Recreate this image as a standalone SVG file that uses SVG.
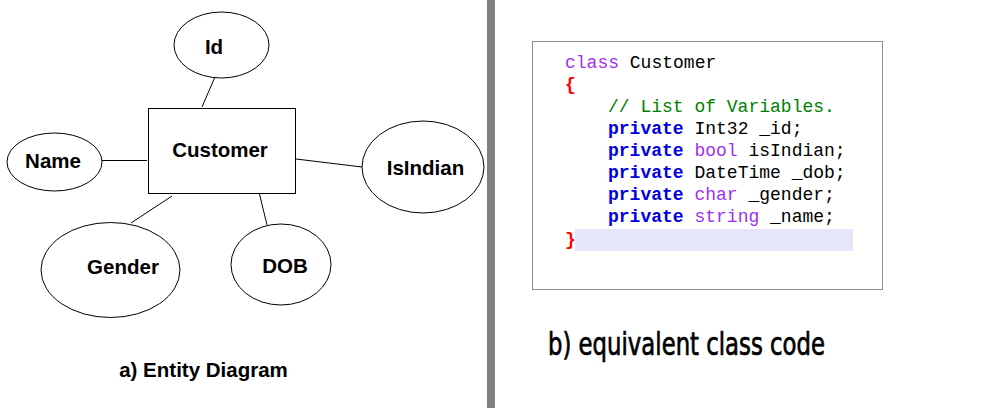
<svg xmlns="http://www.w3.org/2000/svg" width="990" height="408" viewBox="0 0 990 408">
  <style>
    .shape { fill: #ffffff; stroke: #000000; stroke-width: 1; }
    .conn line { stroke: #000000; stroke-width: 1; }
    .lbl { font-family: "Liberation Sans", Arial, sans-serif; font-weight: bold; font-size: 20.5px; fill: #000000; text-anchor: middle; }
    .code { font-family: "Liberation Mono", "Courier New", monospace; font-size: 18px; fill: #000000; white-space: pre; }
    .kw { fill: #0000e0; font-weight: bold; }
    .ty { fill: #a030f0; }
    .cm { fill: #008000; }
    .br { fill: #ff0000; font-weight: bold; }
    .cap { font-family: "Liberation Sans Narrow", "DejaVu Sans Condensed", "Liberation Sans", sans-serif; font-stretch: condensed; font-size: 32px; fill: #000000; stroke: #000000; stroke-width: 0.7px; }
  </style>

  <rect x="0" y="0" width="990" height="408" fill="#ffffff"/>

  <!-- connectors between the entity and its attributes -->
  <g id="connectors" class="conn">
    <line x1="214.5" y1="78" x2="202" y2="107"/>
    <line x1="102" y1="160.5" x2="147" y2="160.5"/>
    <line x1="296" y1="159" x2="362" y2="167"/>
    <line x1="172" y1="196" x2="131" y2="223"/>
    <line x1="259" y1="192" x2="267" y2="225"/>
  </g>

  <g id="customer">
    <rect class="shape" x="148.5" y="108.5" width="147" height="85"/>
    <text class="lbl" x="220" y="156.5">Customer</text>
  </g>
  <g id="attr-id">
    <ellipse class="shape" cx="221.5" cy="45" rx="47.5" ry="33"/>
    <text class="lbl" x="214" y="54">Id</text>
  </g>
  <g id="attr-name">
    <ellipse class="shape" cx="54.5" cy="162" rx="47.5" ry="29"/>
    <text class="lbl" x="53" y="168">Name</text>
  </g>
  <g id="attr-isindian">
    <ellipse class="shape" cx="423" cy="167" rx="61" ry="46"/>
    <text class="lbl" x="425.5" y="175">IsIndian</text>
  </g>
  <g id="attr-gender">
    <ellipse class="shape" cx="110.5" cy="270" rx="69.5" ry="47.5"/>
    <text class="lbl" x="123" y="274">Gender</text>
  </g>
  <g id="attr-dob">
    <ellipse class="shape" cx="281" cy="264.5" rx="50" ry="40.5"/>
    <text class="lbl" x="285" y="273">DOB</text>
  </g>

  <text class="lbl" x="203.5" y="377">a) Entity Diagram</text>

  <!-- panel divider -->
  <rect x="487" y="0" width="8" height="408" fill="#808080"/>

  <!-- code panel -->
  <g id="code-panel">
    <rect x="532.5" y="41.5" width="350" height="248" fill="#ffffff" stroke="#8c8c8c" stroke-width="1"/>
    <rect x="575" y="229" width="278" height="22" fill="#e6e6fa"/>
    <text class="code" x="565" y="68"><tspan class="ty">class</tspan> Customer</text>
    <text class="code br" x="565" y="90">{</text>
    <text class="code cm" x="608" y="112">// List of Variables.</text>
    <text class="code" x="608" y="134"><tspan class="kw">private</tspan> Int32 _id;</text>
    <text class="code" x="608" y="156"><tspan class="kw">private</tspan> <tspan class="ty">bool</tspan> isIndian;</text>
    <text class="code" x="608" y="178"><tspan class="kw">private</tspan> DateTime _dob;</text>
    <text class="code" x="608" y="200"><tspan class="kw">private</tspan> <tspan class="ty">char</tspan> _gender;</text>
    <text class="code" x="608" y="222"><tspan class="kw">private</tspan> <tspan class="ty">string</tspan> _name;</text>
    <text class="code br" x="565" y="245">}</text>
  </g>

  <text class="cap" x="548" y="355" textLength="277" lengthAdjust="spacingAndGlyphs">b) equivalent class code</text>
</svg>
